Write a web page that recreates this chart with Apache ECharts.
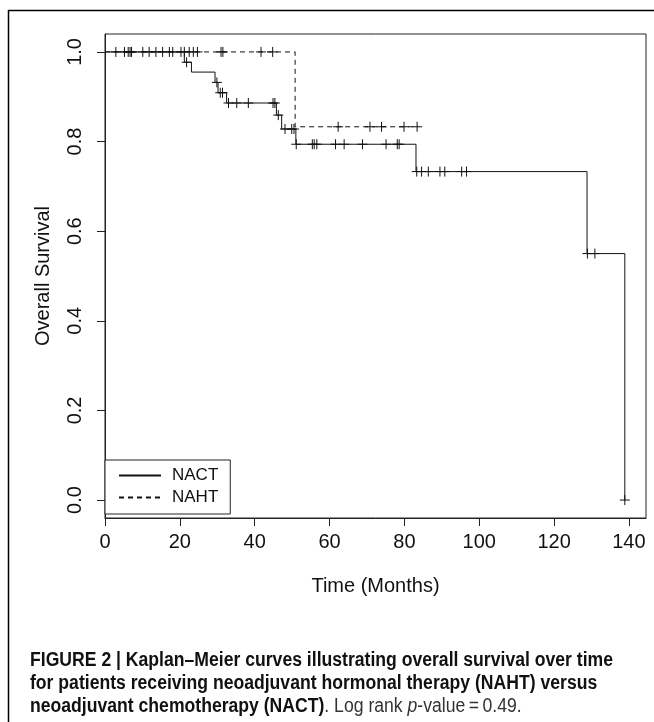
<!DOCTYPE html>
<html><head><meta charset="utf-8">
<script src="https://cdn.jsdelivr.net/npm/echarts@6/dist/echarts.min.js"></script>
<style>html,body{margin:0;padding:0;background:#fff}#c{width:654px;height:722px}</style>
</head><body><div id="c"></div>
<script>
// ---- data ----
const xTicks = [0, 20, 40, 60, 80, 100, 120, 140];
const yTicks = [0, 0.2, 0.4, 0.6, 0.8, 1.0];

// NACT Kaplan-Meier steps (time in months, survival after the step)
const nactTimes = [0, 21.2, 23.1, 29.4, 30.2, 32.5, 45.8, 47.2, 51.0, 83.1, 128.8, 138.9];
const nactSurv  = [1.0, 0.977, 0.955, 0.932, 0.909, 0.886, 0.859, 0.828, 0.794, 0.733, 0.550, 0.0];
const nactEnd = 138.9;
// NACT censoring marks
const nactCensTimes = [2.9, 6.2, 7.1, 11.8, 15.4, 18.1, 20.3, 21.8, 29.9, 30.8, 31.4, 33.0, 35.2, 38.3, 44.9, 45.4, 46.3, 48.1, 49.9, 50.5, 51.1, 55.4, 55.9, 56.6, 61.6, 63.9, 68.8, 75.1, 78.1, 78.6, 83.3, 84.6, 86.4, 89.5, 90.8, 95.3, 96.6, 128.9, 130.9, 138.9];
const nactCensSurv  = [1, 1, 1, 1, 1, 1, 1, 0.977, 0.932, 0.909, 0.909, 0.886, 0.886, 0.886, 0.886, 0.886, 0.859, 0.828, 0.828, 0.828, 0.794, 0.794, 0.794, 0.794, 0.794, 0.794, 0.794, 0.794, 0.794, 0.794, 0.733, 0.733, 0.733, 0.733, 0.733, 0.733, 0.733, 0.550, 0.550, 0.0];

// NAHT Kaplan-Meier steps
const nahtTimes = [0, 50.8];
const nahtSurv  = [1.0, 0.833];
const nahtEnd = 83.4;
// NAHT censoring marks
const nahtCensTimes = [5.2, 6.7, 10.1, 13.6, 17.2, 21.2, 22.5, 23.6, 24.7, 31.0, 31.5, 41.7, 44.8, 62.3, 70.8, 73.9, 79.9, 83.4];
const nahtCensSurv  = [1, 1, 1, 1, 1, 1, 1, 1, 1, 1, 1, 1, 1, 0.833, 0.833, 0.833, 0.833, 0.833];

const xMax = 139 * 1.04;

// ---- build series data ----
function steps(times, surv, end) {
  const d = times.map((t, i) => [t, surv[i]]);
  if (end > times[times.length - 1]) d.push([end, surv[surv.length - 1]]);
  return d;
}
function zip(a, b) { return a.map((v, i) => [v, b[i]]); }

const FONT = '"Liberation Sans", Arial, sans-serif';
const INK = '#111';

function plusMark(params, api) {
  const p = api.coord([api.value(0), api.value(1)]);
  const h = 5;
  return {
    type: 'group',
    children: [
      { type: 'line', shape: { x1: p[0] - h, y1: p[1], x2: p[0] + h, y2: p[1] }, style: { stroke: INK, lineWidth: 1 } },
      { type: 'line', shape: { x1: p[0], y1: p[1] - h, x2: p[0], y2: p[1] + h }, style: { stroke: INK, lineWidth: 1 } }
    ]
  };
}

const CAP_FONT = '"Liberation Sans", Arial, sans-serif';
const chart = echarts.init(document.getElementById('c'), null, { renderer: 'canvas' });
chart.setOption({
  animation: false,
  backgroundColor: '#fff',
  grid: {
    left: 105, right: 8, top: 34, bottom: 204,
    show: true, borderColor: '#222', borderWidth: 1,
    containLabel: false, outerBoundsMode: 'none'
  },
  xAxis: {
    type: 'value', min: 0, max: xMax,
    name: 'Time (Months)', nameLocation: 'middle', nameGap: 58,
    nameTextStyle: { fontFamily: FONT, fontSize: 20, color: INK },
    axisLine: { show: true, onZero: false, lineStyle: { color: '#222', width: 1 } },
    axisTick: { show: true, length: 8, inside: false, customValues: xTicks, lineStyle: { color: '#222' } },
    axisLabel: { customValues: xTicks, margin: 14, fontFamily: FONT, fontSize: 20, color: INK, showMinLabel: true, showMaxLabel: true },
    splitLine: { show: false }
  },
  yAxis: {
    type: 'value', min: -0.04, max: 1.04,
    name: 'Overall Survival', nameLocation: 'middle', nameGap: 52, nameRotate: 90,
    nameTextStyle: { fontFamily: FONT, fontSize: 20, color: INK },
    axisLine: { show: true, onZero: false, lineStyle: { color: '#222', width: 1 } },
    axisTick: { show: true, length: 8, customValues: yTicks, lineStyle: { color: '#222' } },
    axisLabel: { customValues: yTicks, rotate: 90, margin: 20, fontFamily: FONT, fontSize: 20, color: INK,
      formatter: v => v.toFixed(1) },
    splitLine: { show: false }
  },
  legend: {
    orient: 'vertical', left: 105, top: 460,
    data: ['NACT', 'NAHT'],
    itemWidth: 42, itemHeight: 12, itemGap: 5,
    padding: [7, 12, 8, 13],
    borderColor: '#222', borderWidth: 1, borderRadius: 0,
    backgroundColor: '#fff',
    itemStyle: { color: 'rgba(0,0,0,0)', borderWidth: 0, borderColor: 'rgba(0,0,0,0)' },
    textStyle: { fontFamily: FONT, fontSize: 17, color: INK, padding: [0, 0, 0, 6] },
    selectedMode: false
  },
  series: [
    {
      name: 'NACT', type: 'line', step: 'end', symbol: 'none', z: 3,
      data: steps(nactTimes, nactSurv, nactEnd),
      lineStyle: { color: INK, width: 1, type: 'solid' },
      itemStyle: { color: INK }
    },
    {
      name: 'NAHT', type: 'line', step: 'end', symbol: 'none', z: 3,
      data: steps(nahtTimes, nahtSurv, nahtEnd),
      lineStyle: { color: INK, width: 1, type: [5, 4] },
      itemStyle: { color: INK }
    },
    { name: 'NACT censored', type: 'custom', renderItem: plusMark, data: zip(nactCensTimes, nactCensSurv), z: 4, silent: true },
    { name: 'NAHT censored', type: 'custom', renderItem: plusMark, data: zip(nahtCensTimes, nahtCensSurv), z: 4, silent: true }
  ],
  graphic: [
    { type: 'line', shape: { x1: 8.5, y1: 10, x2: 8.5, y2: 722 }, style: { stroke: '#000', lineWidth: 1.5 } },
    { type: 'line', shape: { x1: 8, y1: 10.5, x2: 654, y2: 10.5 }, style: { stroke: '#000', lineWidth: 1.5 } },
    {
      type: 'text', x: 30, y: 649, scaleX: 0.88, scaleY: 1,
      style: {
        x: 0, y: 0, verticalAlign: 'top', align: 'left',
        text: '{b|FIGURE 2 | Kaplan–Meier curves illustrating overall survival over time}\n' +
              '{b|for patients receiving neoadjuvant hormonal therapy (NAHT) versus}\n' +
              '{b|neoadjuvant chemotherapy (NACT)}{r|. Log rank }{i|p}{r|-value\u2009=\u20090.49.}',
        rich: {
          b: { fontFamily: CAP_FONT, fontWeight: 'bold', fontSize: 20, lineHeight: 23, fill: '#111' },
          r: { fontFamily: CAP_FONT, fontSize: 20, lineHeight: 23, fill: '#333' },
          i: { fontFamily: CAP_FONT, fontStyle: 'italic', fontSize: 20, lineHeight: 23, fill: '#333' }
        }
      }
    }
  ]
});
</script>
</body></html>
